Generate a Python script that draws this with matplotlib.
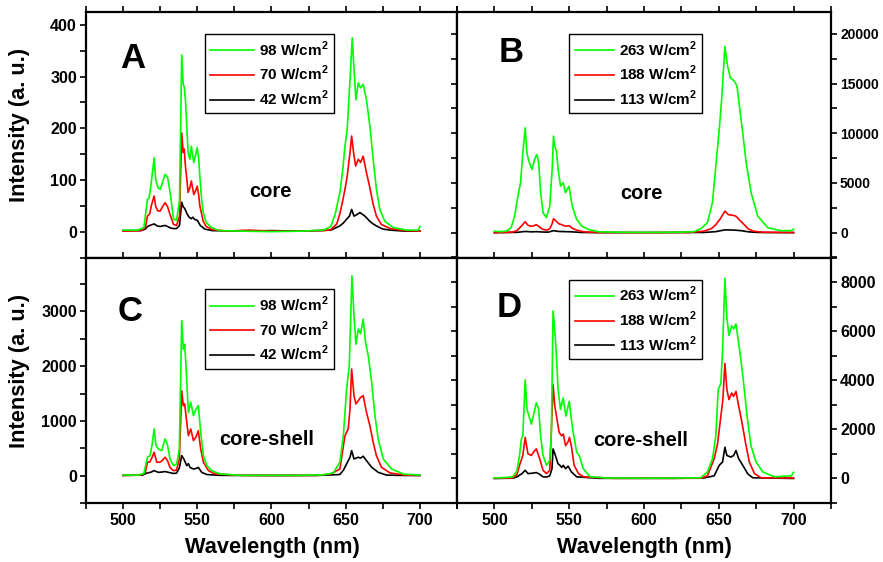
import matplotlib
matplotlib.use("Agg")
import matplotlib.pyplot as plt
from matplotlib.lines import Line2D
from matplotlib.ticker import MultipleLocator

plt.rcParams['font.family'] = ['Liberation Sans', 'DejaVu Sans']
plt.rcParams['font.weight'] = 'bold'
plt.rcParams['mathtext.fontset'] = 'custom'
plt.rcParams['mathtext.rm'] = 'Liberation Sans:bold'
plt.rcParams['mathtext.bf'] = 'Liberation Sans:bold'

# ---- data: (wavelength nm, intensity a.u.) ----
a_green = [(500, 3), (510, 3), (514, 8), (516.4, 62), (517.5, 65), (519, 95), (520.9, 143), (522, 100),
           (523.5, 85), (525, 82), (526.5, 95), (528.3, 111), (530, 105), (532, 70), (534, 24), (536, 22),
           (538, 60), (539.5, 342), (540.5, 285), (541.2, 280), (542, 256), (543, 200), (543.8, 153),
           (545, 140), (546, 165), (547.6, 134), (549, 150), (549.9, 163), (551, 140), (551.7, 107),
           (553, 60), (554, 37), (556, 18), (559.5, 8), (565, 2), (580, 1), (600, 0), (620, 1), (635, 3),
           (640, 10), (643, 35), (646.1, 76), (648, 120), (649.5, 165), (651, 198), (652.9, 294),
           (654.4, 375), (655.8, 304), (656.9, 255), (658.5, 288), (660, 278), (661.8, 285), (664, 255),
           (666.3, 204), (668.5, 140), (670.7, 82), (673, 43), (676.4, 20), (682, 8), (691, 3), (699, 3),
           (700, 10)]
a_red = [(500, 1), (512, 2), (515, 8), (516.4, 30), (518, 35), (519, 50), (520.9, 69), (522, 48), (523.5, 40),
         (525, 40), (526.5, 48), (528.3, 56), (530, 48), (532, 30), (534, 14), (536, 12), (538, 30),
         (539.5, 191), (540.5, 153), (541.2, 160), (542, 127), (543, 100), (543.8, 76), (545, 85), (546, 98),
         (547.6, 72), (549, 80), (549.9, 88), (551, 70), (551.7, 50), (554, 20), (556, 10), (560, 4),
         (570, 1), (585, 3), (600, 1), (620, 1), (635, 2), (640, 4), (644, 15), (646.1, 35), (648, 60),
         (649.5, 82), (651, 107), (652.9, 153), (654, 185), (655.3, 153), (656.7, 127), (658.5, 140),
         (660, 134), (661.8, 146), (664, 114), (666.3, 85), (668.5, 53), (670.7, 30), (674, 14), (680, 6),
         (690, 2), (700, 1)]
a_black = [(500, 2), (512, 2), (515, 5), (516.5, 10), (518, 12), (520.9, 15), (523, 11), (525, 10),
           (528.3, 12), (530, 10), (532, 7), (534, 6), (536, 6), (538, 12), (539.5, 57), (540.5, 48),
           (541.5, 45), (543, 35), (544.5, 28), (546, 25), (547, 28), (548, 24), (550, 22), (552, 12),
           (555, 5), (560, 2), (580, 1), (600, 2), (620, 1), (640, 3), (646, 11), (648.5, 17), (650.6, 24),
           (652.5, 30), (654, 43), (655.6, 30), (657.5, 33), (659.6, 37), (661.5, 33), (663, 30),
           (666.3, 20), (668.5, 15), (670.7, 11), (675, 5), (680, 3), (690, 1), (700, 1)]

b_green = [(500, 150), (504, 100), (508, 150), (511.2, 500), (513.5, 1670), (515, 3000), (516.1, 4020),
           (517.5, 5025), (519, 8040), (520.6, 10550), (521.7, 8040), (523, 7200), (525.1, 6360),
           (526.9, 7370), (528.3, 7870), (529.6, 7030), (530.9, 4020), (532.5, 2010), (534.8, 1510),
           (537, 2670), (538.6, 6360), (539.5, 9710), (540.4, 8700), (541.5, 8200), (542.6, 6360),
           (544.2, 4680), (546, 5025), (547.5, 4020), (549.8, 4680), (552, 2670), (555, 1340), (558.3, 670),
           (562.8, 330), (570, 80), (590, 30), (610, 30), (625, 50), (633.4, 100), (638, 400), (642.4, 1000),
           (645.7, 3000), (648, 6700), (650.3, 10380), (651.9, 13400), (654.1, 18750), (655.9, 16740),
           (657.7, 15580), (658.6, 15480), (660.4, 15240), (662.2, 14730), (663.8, 12720), (666, 10050),
           (668.3, 7035), (671.6, 4020), (676, 1670), (682.7, 500), (691.7, 200), (698.4, 200), (700, 350)]
b_red = [(500, 0), (512, 50), (515, 200), (517, 500), (519, 830), (520.6, 1100), (522.4, 750), (524, 650),
         (525.5, 650), (528, 800), (530, 600), (532, 350), (535, 250), (537, 400), (538.6, 900), (539.5, 1400),
         (541, 1200), (543, 900), (545, 800), (546.5, 700), (548, 650), (550, 700), (552, 450), (555, 250),
         (560, 80), (570, 20), (600, 0), (630, 20), (640, 150), (645, 400), (648, 800), (651, 1400),
         (654.1, 2170), (656.5, 1800), (659.5, 1750), (661.5, 1650), (665, 1100), (667, 800), (669.5, 400),
         (673, 150), (680, 40), (700, 20)]
b_black = [(500, 0), (515, 30), (520.6, 120), (525, 80), (528, 100), (533, 60), (536, 50), (539.5, 200),
           (543, 120), (548, 100), (552, 80), (558, 20), (570, 0), (640, 20), (648, 100), (654, 280),
           (660, 260), (665, 200), (670, 80), (676, 20), (700, 0)]

c_green = [(500, 10), (510, 10), (514, 40), (516.4, 336), (518.2, 365), (519.5, 560), (520.9, 852),
           (522.2, 548), (523.8, 487), (526, 456), (528.3, 670), (529.8, 578), (531.6, 304), (533.9, 183),
           (536.1, 213), (537.9, 487), (539.5, 2830), (540.6, 2310), (541.5, 2400), (542.4, 2000),
           (544, 1150), (545.6, 1340), (547.4, 1095), (549.2, 1217), (550.7, 1280), (552.3, 790),
           (554.1, 365), (556.4, 183), (559.7, 91), (565.4, 30), (580, 5), (600, 5), (620, 5), (635, 15),
           (641.6, 50), (646.1, 245), (648.4, 730), (650.6, 1580), (652.4, 2000), (654.2, 3650),
           (655.6, 2920), (656.9, 2400), (658.5, 2680), (660, 2590), (661.8, 2860), (663.4, 2435),
           (665.2, 2190), (667.5, 1700), (669.7, 1095), (671.9, 670), (675.3, 304), (680.9, 122),
           (688.8, 30), (700, 10)]
c_red = [(500, 5), (512, 10), (515, 60), (516.4, 245), (518, 250), (519.5, 330), (520.9, 427), (522.7, 245),
         (524.9, 245), (526.5, 280), (528.3, 336), (530, 270), (531.6, 150), (533.9, 91), (536, 100),
         (537.9, 304), (539.5, 1550), (540.6, 1277), (541.5, 1310), (542.9, 975), (544, 730), (545.6, 852),
         (547.4, 640), (549, 700), (550.7, 821), (552.3, 487), (554.1, 245), (557.5, 91), (562, 30),
         (580, 5), (600, 3), (630, 5), (640, 30), (646.1, 122), (649.5, 730), (651.7, 852), (652.9, 1217),
         (654, 1947), (655.6, 1460), (656.9, 1310), (658.5, 1370), (660, 1430), (661.8, 1460), (664, 1157),
         (666.3, 913), (668.5, 610), (670.7, 365), (674.1, 153), (679.8, 50), (690, 10), (700, 5)]
c_black = [(500, 3), (513, 10), (516.4, 50), (518.5, 60), (520.9, 91), (523.8, 60), (526, 65), (528.3, 75),
           (530.5, 60), (533.9, 40), (536, 45), (537.9, 140), (539.5, 365), (541, 300), (542.9, 183),
           (544, 220), (545.1, 150), (547.4, 120), (549, 130), (550.7, 150), (553, 60), (556.4, 20),
           (565, 5), (600, 2), (630, 3), (642, 15), (646, 20), (648.5, 100), (650.6, 213), (652.9, 336),
           (654, 456), (655.6, 304), (657, 320), (658.5, 336), (660, 320), (661.8, 354), (664, 274),
           (667.5, 153), (671.9, 60), (677.5, 10), (690, 3), (700, 2)]

d_green = [(500, 20), (508, 40), (512.3, 67), (515, 300), (516.8, 936), (518, 1605), (519, 1740),
           (520.6, 4014), (521.8, 2810), (523.1, 2540), (524.7, 2210), (526.5, 2677), (528, 3080),
           (529.6, 2810), (530.9, 1740), (532.5, 936), (534.8, 535), (537, 735), (538.1, 1873),
           (539.2, 6824), (540.4, 6020), (541.5, 4950), (542.6, 3612), (544.2, 2810), (546, 3280),
           (547.8, 2540), (550, 3143), (552.3, 2007), (555, 1070), (556.7, 935), (559.4, 400), (563.9, 70),
           (575, 20), (600, 10), (620, 15), (637.9, 27), (642.4, 267), (645.8, 803), (648, 1740),
           (649.6, 3613), (651.4, 3880), (652.5, 5220), (654.1, 8160), (655.4, 6555), (656.8, 5820),
           (658.6, 6220), (659.9, 6090), (661.5, 6290), (663.3, 5490), (664.8, 4820), (666.6, 3880),
           (668.9, 2540), (671.5, 1337), (674.9, 669), (679.4, 267), (687.2, 67), (698.5, 107), (700, 250)]
d_red = [(500, 5), (512, 20), (515, 150), (516.8, 535), (519, 936), (520.6, 1672), (522.4, 1003),
         (524.7, 936), (526.5, 1100), (528, 1204), (530.3, 800), (532.5, 333), (534.8, 200), (537, 333),
         (538.8, 3080), (539.2, 3813), (540.4, 2940), (541.5, 2540), (543.3, 1873), (544.9, 1740),
         (546, 1805), (547.6, 1337), (549.3, 1500), (550.2, 1672), (551.5, 1300), (553.3, 535),
         (556.2, 200), (559.6, 67), (580, 5), (620, 5), (638, 10), (642.4, 107), (646.9, 803),
         (649.1, 1390), (651.4, 2540), (652.7, 3210), (654.1, 4685), (655.4, 3613), (656.8, 3210),
         (658.6, 3480), (659.9, 3345), (661.5, 3545), (663.3, 2940), (665.5, 2275), (667.8, 1472),
         (670.4, 669), (673.8, 200), (678.3, 27), (700, 20)]
d_black = [(500, 0), (512, 10), (515, 60), (516.8, 133), (518.5, 200), (520.6, 333), (522.4, 200),
           (525, 210), (528, 240), (530, 180), (532.5, 67), (535, 60), (537, 107), (538.5, 400),
           (539.2, 1204), (540.4, 1003), (541.5, 800), (542.5, 600), (543.8, 535), (545, 450), (546, 535),
           (547.6, 400), (549.3, 500), (551.5, 267), (555, 67), (570, 5), (620, 5), (640, 20), (646.9, 107),
           (650.3, 535), (652.5, 669), (654.1, 1270), (655.4, 936), (658.1, 870), (659.9, 936),
           (661.5, 1137), (663.3, 803), (666, 535), (669.4, 187), (672.7, 27), (700, 0)]

left_labels = ['98 W/cm$^{2}$', '70 W/cm$^{2}$', '42 W/cm$^{2}$']
right_labels = ['263 W/cm$^{2}$', '188 W/cm$^{2}$', '113 W/cm$^{2}$']
colors = ['#00ff00', '#ff0000', '#000000']

# ---- figure ----
fig = plt.figure(figsize=(8.83, 5.62), dpi=100)
W, H = 883.0, 562.0
x0, xm, x1 = 86, 457, 831
y0, ym, y1 = 12, 257.5, 503

def box(l, r, t, b):
    return [l / W, 1 - b / H, (r - l) / W, (b - t) / H]

panels = [
    dict(pos=box(x0, xm, y0, ym), data=[a_green, a_red, a_black], labels=left_labels,
         ylim=(-50, 425), major=100, minor=50, side='left', xlab=False, letter='A',
         lpos=(0.092, 0.81), txt='core', tpos=(0.496, 0.27), leg=(0.32, 0.91), hl=2.9, tsize=11.5),
    dict(pos=box(xm, x1, y0, ym), data=[b_green, b_red, b_black], labels=right_labels,
         ylim=(-2500, 22200), major=5000, minor=2500, side='right', xlab=False, letter='B',
         lpos=(0.11, 0.835), txt='core', tpos=(0.492, 0.26), leg=(0.30, 0.91), hl=2.6, tsize=10),
    dict(pos=box(x0, xm, ym, y1), data=[c_green, c_red, c_black], labels=left_labels,
         ylim=(-500, 3985), major=1000, minor=500, side='left', xlab=True, letter='C',
         lpos=(0.085, 0.78), txt='core-shell', tpos=(0.488, 0.26), leg=(0.32, 0.87), hl=2.9, tsize=11.5),
    dict(pos=box(xm, x1, ym, y1), data=[d_green, d_red, d_black], labels=right_labels,
         ylim=(-1000, 9000), major=2000, minor=1000, side='right', xlab=True, letter='D',
         lpos=(0.105, 0.795), txt='core-shell', tpos=(0.492, 0.255), leg=(0.30, 0.91), hl=2.6, tsize=11.5),
]

for p in panels:
    ax = fig.add_axes(p['pos'])
    # black first, green on top
    for series, col in reversed(list(zip(p['data'], colors))):
        wl = [v[0] for v in series]
        inten = [v[1] for v in series]
        ax.plot(wl, inten, color=col, lw=1.2)
    ax.set_xlim(475, 725)
    ax.set_ylim(*p['ylim'])
    ax.xaxis.set_major_locator(MultipleLocator(50))
    ax.xaxis.set_minor_locator(MultipleLocator(25))
    ax.yaxis.set_major_locator(MultipleLocator(p['major']))
    ax.yaxis.set_minor_locator(MultipleLocator(p['minor']))
    for s in ax.spines.values():
        s.set_linewidth(1.6)
    ax.tick_params(which='both', direction='out', width=1.2, top=True, right=True,
                   labelsize=p['tsize'], pad=2.5)
    ax.tick_params(which='major', length=4)
    ax.tick_params(which='minor', length=4)
    ax.tick_params(axis='x', labelsize=11.5, pad=3.5, labelbottom=p['xlab'])
    if p['side'] == 'right':
        ax.tick_params(axis='y', labelleft=False, labelright=True)
    for lab in ax.get_xticklabels() + ax.get_yticklabels():
        lab.set_fontweight('bold')

    ax.text(p['lpos'][0], p['lpos'][1], p['letter'], transform=ax.transAxes,
            fontsize=25, fontweight='bold', ha='left', va='center')
    ax.text(p['tpos'][0], p['tpos'][1], p['txt'], transform=ax.transAxes,
            fontsize=14.5, fontweight='bold', ha='center', va='center')

    handles = [Line2D([], [], color=c, lw=1.2) for c in colors]
    leg = ax.legend(handles, p['labels'], loc='upper left', bbox_to_anchor=p['leg'],
                    frameon=True, fancybox=False, edgecolor='black', framealpha=1,
                    prop={'size': 11, 'weight': 'bold'}, handlelength=p['hl'],
                    handletextpad=0.3, labelspacing=0.35, borderpad=0.35, borderaxespad=0)
    leg.get_frame().set_linewidth(1.0)

fig.text(20 / W, 1 - 125 / H, 'Intensity (a. u.)', rotation=90, fontsize=15.7,
         fontweight='bold', ha='center', va='center')
fig.text(20 / W, 1 - 371 / H, 'Intensity (a. u.)', rotation=90, fontsize=15.7,
         fontweight='bold', ha='center', va='center')
fig.text(272 / W, 1 - 548 / H, 'Wavelength (nm)', fontsize=15.7, fontweight='bold',
         ha='center', va='center')
fig.text(644 / W, 1 - 548 / H, 'Wavelength (nm)', fontsize=15.7, fontweight='bold',
         ha='center', va='center')

plt.savefig('out.png', dpi=100)
